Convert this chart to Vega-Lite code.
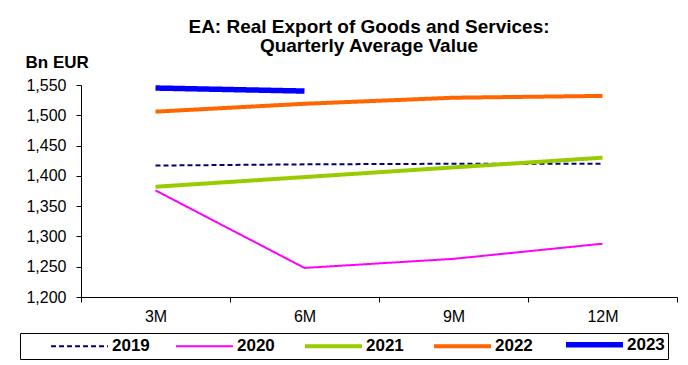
{
  "$schema": "https://vega.github.io/schema/vega-lite/v6.json",
  "autosize": "none",
  "width": 596,
  "height": 212,
  "padding": {"left": 81, "top": 85, "right": 11, "bottom": 68},
  "background": "white",
  "config": {
    "font": "Liberation Sans",
    "view": {"stroke": null}
  },
  "title": {
    "text": ["EA: Real Export of Goods and Services:", "Quarterly Average Value"],
    "fontSize": 19,
    "fontWeight": "bold",
    "font": "Liberation Sans",
    "color": "black",
    "anchor": "middle",
    "dx": -10,
    "offset": -3,
    "lineHeight": 19
  },
  "data": {
    "values": [
      {"period": "3M", "year": "2019", "value": 1417},
      {"period": "6M", "year": "2019", "value": 1419},
      {"period": "9M", "year": "2019", "value": 1420},
      {"period": "12M", "year": "2019", "value": 1420},
      {"period": "3M", "year": "2020", "value": 1376},
      {"period": "6M", "year": "2020", "value": 1248},
      {"period": "9M", "year": "2020", "value": 1263},
      {"period": "12M", "year": "2020", "value": 1288},
      {"period": "3M", "year": "2021", "value": 1382},
      {"period": "6M", "year": "2021", "value": 1398},
      {"period": "9M", "year": "2021", "value": 1414},
      {"period": "12M", "year": "2021", "value": 1430},
      {"period": "3M", "year": "2022", "value": 1506},
      {"period": "6M", "year": "2022", "value": 1519},
      {"period": "9M", "year": "2022", "value": 1529},
      {"period": "12M", "year": "2022", "value": 1532},
      {"period": "3M", "year": "2023", "value": 1545},
      {"period": "6M", "year": "2023", "value": 1540}
    ]
  },
  "mark": {
    "type": "line",
    "strokeCap": "butt",
    "strokeWidth": {"expr": "datum.year == '2023' ? 5.5 : (datum.year == '2021' || datum.year == '2022') ? 4 : 2"}
  },
  "encoding": {
    "x": {
      "field": "period",
      "type": "ordinal",
      "sort": ["3M", "6M", "9M", "12M"],
      "scale": {"type": "band", "paddingInner": 0, "paddingOuter": 0},
      "bandPosition": 0.5,
      "axis": {
        "title": null,
        "labelAngle": 0,
        "tickBand": "extent",
        "domainColor": "black",
        "tickColor": "black",
        "tickSize": 5,
        "labelFontSize": 16,
        "labelColor": "black",
        "labelPadding": 6,
        "labelFont": "Liberation Sans"
      }
    },
    "y": {
      "field": "value",
      "type": "quantitative",
      "scale": {"domain": [1200, 1550], "nice": false, "zero": false},
      "axis": {
        "values": [1200, 1250, 1300, 1350, 1400, 1450, 1500, 1550],
        "format": ",.0f",
        "grid": false,
        "domainColor": "black",
        "tickColor": "black",
        "tickSize": 5,
        "labelFontSize": 16,
        "labelColor": "black",
        "labelFont": "Liberation Sans",
        "labelPadding": 10,
        "title": "Bn EUR",
        "titleAngle": 0,
        "titleAlign": "left",
        "titleBaseline": "alphabetic",
        "titleX": -56,
        "titleY": -18,
        "titleFontSize": 17,
        "titleFontWeight": "bold",
        "titleColor": "black",
        "titleFont": "Liberation Sans"
      }
    },
    "color": {
      "field": "year",
      "type": "nominal",
      "scale": {"domain": ["2019", "2020", "2021", "2022", "2023"], "range": ["#000080", "#FF00FF", "#99CC00", "#FF6600", "#0000FF"]},
      "legend": {
        "title": " ",
        "titleOrient": "left",
        "titlePadding": 25,
        "titleFontSize": 17,
        "orient": "none",
        "legendX": -61,
        "legendY": 248,
        "direction": "horizontal",
        "symbolType": "M-1,0H9.36",
        "symbolSize": 121,
        "labelFontSize": 17,
        "labelFontWeight": "bold",
        "labelColor": "black",
        "labelFont": "Liberation Sans",
        "strokeColor": "black",
        "padding": 3,
        "columnPadding": 22,
        "labelOffset": 47,
        "fillColor": "white",
        "encode": {
          "symbols": {
            "update": {
              "strokeWidth": {"signal": "datum.value == '2023' ? 5.5 : (datum.value == '2021' || datum.value == '2022') ? 4 : 2"},
              "strokeDash": {"signal": "datum.value == '2019' ? [5, 3] : [1, 0]"}
            }
          }
        }
      }
    },
    "strokeDash": {
      "field": "year",
      "type": "nominal",
      "scale": {"domain": ["2019", "2020", "2021", "2022", "2023"], "range": [[5, 3], [1, 0], [1, 0], [1, 0], [1, 0]]},
      "legend": {"title": " "}
    }
  }
}
